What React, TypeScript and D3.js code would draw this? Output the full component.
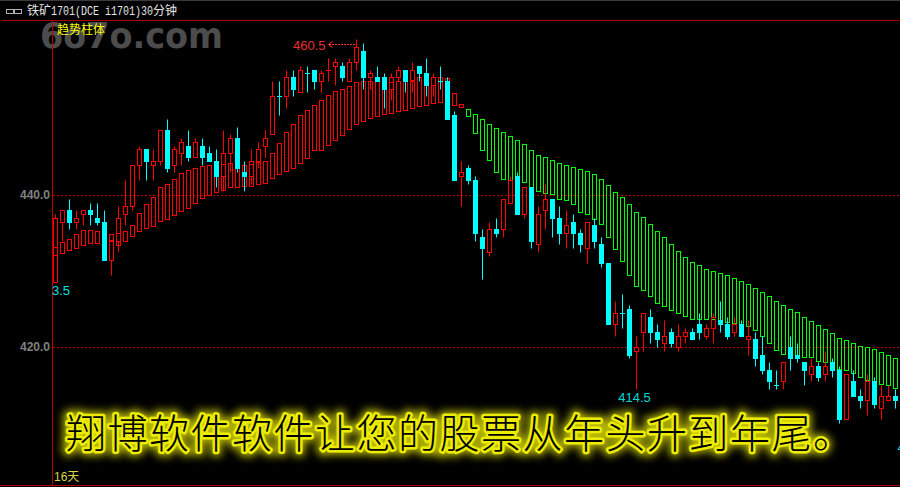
import React from "react";
import * as d3 from "d3";

const opens = [428.5,436.5,438,436.5,437.5,438,437,436.5,431.5,434,437.5,438.5,444,446,444,444.5,448.5,444,445.5,446.5,445,446.5,445.5,444.5,442.5,445.5,447.5,443,442.5,444.5,446.5,448,453,453,455.5,453.5,456,456.5,455,456.5,457,457,455,457.5,459,455.5,455.5,455.5,454,455.5,456.5,455,457,456,454.5,455,455,450.5,442.5,443.5,442,434.5,432.5,435.5,435.5,439,442.5,437.5,441,433.5,438,439.5,437,435,436.5,435,433,436,433.5,431,423,424.5,425,419.5,422,424,422,420.5,422,420,421.5,422,423,421.5,422.5,423.5,423,422,423,421,421,419,417,415,415.5,420,419,418,416.5,417.5,416.5,418,417,410.5,415.5,413.5,413,415.5,412,413,413.5];
const closes = [437,438,436.5,437,438,437.5,436.5,431.5,434,437,438.5,444,446,444.5,444.5,448.5,443.5,446,447,445,447,445,444.5,442.5,445.5,447.5,443.5,442.5,444.5,446,447.5,453,453,455.5,454,456.5,456,455,456,456.5,457.5,455.5,457.5,459.5,455.5,456,455,454,455.5,456.5,455,456.5,456,454.5,455.5,455,450,442,443,442,435,433,435.5,435,439.5,442,437.5,441,434,437.5,439.5,437,435,436,435,433.5,436.5,434,431,423,424.5,424.5,419,420,424.5,422,421,421.5,420.5,421.5,422,421,422,422.5,424,423,421.5,423,421.5,421.5,418.5,417,415.5,415,418,418.5,418.5,417,417.5,416,417.5,417,410.5,416.5,413.5,413,415.5,412.5,413.5,413.5,413];
const highs = [437.5,438,439.5,438,438,439,439,438,434,438.5,442,444,446.5,446,446,448.5,450,446.5,447.5,448.5,447.5,447.5,446.5,446,448.5,448,449,444.5,446,447,448.5,455,455,456.5,456.5,457,457,456.5,456.5,458,458,457.5,458,460.5,460,456.5,457,456,456,457,456.5,457.5,457,458,456,457,455.5,451,444.5,444,442.5,435.5,436.5,437,439.5,442.5,443,441,441,438.5,441.5,439.5,438.5,438,437.5,435.5,436.5,437,434.5,431,426,427,425.5,421.5,424.5,425,423,423.5,422.5,423,422.5,422.5,424.5,423,424.5,426,424,424,423.5,423.5,422,421.5,418,417,418,421.5,420.5,418,418.5,418,419.5,418.5,417.5,416.5,417,414.5,416.5,416,415,415,414.5];
const lows = [428.5,434,435.5,435.5,436,436,436,431.5,429.5,432.5,436,438,442,442,442,444,443,443,444,444.5,445,444,444.5,441,440.5,443,443,440.5,441.5,443.5,445,448,450.5,451.5,453,453.5,453.5,454,453.5,455,454.5,455,455,456.5,454,454,455,451.5,452.5,455,453.5,453.5,455,453,453,454,450,442,438.5,441.5,434,429,432,434.5,434.5,439,437.5,437,433,432.5,435.5,434.5,433.5,433,433,432.5,431,433,430.5,423,421.5,422.5,418.5,414.5,419.5,420.5,420,419.5,420,419.5,420.5,421,421,421,420.5,422,421,421.5,421.5,419,417.5,416.5,414.5,414.5,414.5,417,418,415,415.5,415.5,415.5,416,410,410.5,413.5,412,411,412,410.5,413,412];
const fallingDojis = [32,36,55,81,103];
const trendTop = [433.2,433.8,434.2,434.9,435.4,435.4,435.3,435.3,434.9,435,435.3,436.1,437.6,438.8,439.7,441.1,441.4,442.1,442.9,443.3,443.6,443.8,443.9,444.2,444.1,444.2,444.2,443.9,444.1,444.3,444.5,445.5,446.8,448.3,449.3,450.5,451.2,451.8,452.5,453.2,453.7,453.9,454.3,454.9,455,455,455,455.1,454.9,455,455.1,455.1,455.5,455.5,455.5,455.5,455.4,453.4,452,451.3,450.7,450,449.3,448.8,448.3,447.8,447.2,446.7,445.9,445.3,445,444.6,444.2,443.9,443.7,443.4,443.2,442.8,442.1,441.3,440.4,439.7,438.8,437.8,437.1,436.2,435.3,434.5,433.6,432.6,431.8,431.2,430.8,430.3,430,429.7,429.5,429.1,428.7,428.3,427.8,427.2,426.7,426.1,425.5,425,424.6,423.9,423.4,422.9,422.4,421.8,421.2,420.9,420.5,420.1,420,419.7,419.3,418.9,418.5];
const trendBottom = [432.1,432.4,432.8,433,433.4,433.7,433.7,433.8,434.1,433.4,433.9,434.6,435.3,435.7,435.9,436.6,436.8,437.4,437.9,438.3,438.9,439.6,440,440.4,440.7,441.1,441.1,441.2,441.2,441.4,441.6,442.2,442.8,443.2,443.6,444.2,444.9,445.9,445.9,446.6,447.2,447.9,448.7,449.3,449.7,450.1,450.4,450.7,450.8,451.1,451.2,451.4,451.7,451.8,452.1,452.2,452.5,451.8,451.6,450.4,448.2,445.9,444.6,443,442.1,442,442.2,441.7,441.1,440.5,440.3,440.1,439.5,439.3,438.8,437.8,437.5,436.8,436.2,434.5,432.9,431.3,429.5,428,427.5,426.7,425.8,425.4,424.9,424.5,424.1,423.7,423.7,423.7,423.7,423.6,423.3,423.2,422.9,422.8,422.2,421.4,420.5,419.6,419.1,418.7,418.6,418.7,418.7,418.2,418,417.1,417.1,417,416.6,416.1,415.7,415.5,415.1,415,414.6];
const firstGreenTrend = 59;
const lowLabelIndex = 83;
const gridPrices = [440, 420];
const gridLabels = ["440.0", "420.0"];
const title = ["铁矿", "1701(DCE i1701)30", "分钟"];
const indicatorName = "趋势柱体";
const slogan = "翔博软件软件让您的股票从年头升到年尾。";
const watermark = "6o7o.com";
const highLabel = "460.5";
const lowLabel = "414.5";
const leftCutLabel = "3.5";
const rightCutLabel = "4";
const spanLabel = "16天";

const RED = "#ff0000";
const CYAN = "#00ffff";
const GREEN = "#00ff00";
const FRAME = "#b00000";
const W = 900;
const H = 487;

const x = d3.scaleLinear().domain([0, 120]).range([55.5, 895.5]);
const y = d3.scaleLinear().domain([420, 440]).range([347, 195]);
const sy = (v: number) => Math.round(y(v)) + 0.5;

const sansCJK = '"Noto Sans CJK SC", sans-serif';

export default function App() {
  const highIdx = d3.scan(highs, (a, b) => b - a)!;
  return (
    <svg width={W} height={H} viewBox={`0 0 ${W} ${H}`} style={{ position: "fixed", left: 0, top: 0, background: "#000", display: "block" }}>
      <defs>
        <filter id="glow" x="-5%" y="-60%" width="110%" height="220%">
          <feGaussianBlur stdDeviation="4" />
        </filter>
      </defs>
      <rect width={W} height={H} fill="#000" />
      <rect width={W} height={1} fill="#3a3a3a" />

      {/* watermark */}
      <text x={40} y={48} fontFamily='"DejaVu Sans", sans-serif' fontWeight={700} fontSize={36} fill="#4c4c4c" textLength={183} lengthAdjust="spacingAndGlyphs">{watermark}</text>

      {/* title bar */}
      <g fill="none" stroke="#b0b0b0">
        <rect x={6.5} y={9.5} width={8} height={4} />
        <rect x={13.5} y={9.5} width={8} height={4} />
      </g>
      <g fill="#e6e6e6" fontSize={12}>
        <text x={27} y={15} fontFamily={sansCJK}>{title[0]}</text>
        <text x={51} y={15} fontFamily='"Liberation Mono", monospace' textLength={102} lengthAdjust="spacingAndGlyphs">{title[1]}</text>
        <text x={153} y={15} fontFamily={sansCJK}>{title[2]}</text>
      </g>

      {/* frame */}
      <line x1={2} x2={W} y1={20.5} y2={20.5} stroke={FRAME} />
      <line x1={52.5} x2={52.5} y1={20} y2={486} stroke={FRAME} />
      <line x1={0} x2={W} y1={485.5} y2={485.5} stroke={FRAME} />

      {/* grid */}
      {gridPrices.map((p, i) => (
        <g key={p}>
          <line x1={53} x2={W} y1={sy(p)} y2={sy(p)} stroke="#c00000" strokeDasharray="2 2" />
          <text x={50} y={y(p) + 4} textAnchor="end" fontFamily='"Liberation Sans", sans-serif' fontWeight={700} fontSize={12} fill="#808080">{gridLabels[i]}</text>
        </g>
      ))}

      {/* trend columns */}
      {trendTop.map((t, i) => (
        <rect key={i} x={x(i) - 2} y={sy(t)} width={4} height={Math.max(1, sy(trendBottom[i]) - sy(t))} fill="none" stroke={i >= firstGreenTrend ? GREEN : RED} />
      ))}

      {/* candles */}
      {opens.map((o, i) => {
        const c = closes[i];
        const falling = c < o || (c === o && fallingDojis.includes(i));
        const top = sy(Math.max(o, c));
        const bottom = sy(Math.min(o, c));
        const col = falling ? CYAN : RED;
        return (
          <g key={i}>
            <line x1={x(i)} x2={x(i)} y1={sy(highs[i])} y2={top} stroke={col} />
            <line x1={x(i)} x2={x(i)} y1={bottom} y2={sy(lows[i])} stroke={col} />
            {top === bottom ? (
              <line x1={x(i) - 2.5} x2={x(i) + 2.5} y1={top} y2={top} stroke={col} />
            ) : falling ? (
              <rect x={x(i) - 2.5} y={top - 0.5} width={5} height={bottom - top + 1} fill={CYAN} />
            ) : (
              <rect x={x(i) - 2} y={top} width={4} height={bottom - top} fill="none" stroke={RED} />
            )}
          </g>
        );
      })}

      {/* extreme labels */}
      <text x={293} y={50} fontFamily='"Liberation Sans", sans-serif' fontSize={13} fill="#e83030">{highLabel}</text>
      <line x1={329} x2={x(highIdx) - 1} y1={44.5} y2={44.5} stroke="#ff3030" strokeDasharray="2 1" />
      <path d="M332.5 41.5 L328.5 44.5 L332.5 47.5" fill="none" stroke="#ff3030" />
      <text x={x(lowLabelIndex) - 2} y={402} textAnchor="middle" fontFamily='"Liberation Sans", sans-serif' fontSize={13} fill="#00d8d8">{lowLabel}</text>
      <text x={52} y={295} fontFamily='"Liberation Sans", sans-serif' fontSize={13} fill="#00e0e0">{leftCutLabel}</text>
      <text x={897.5} y={452} fontFamily='"Liberation Sans", sans-serif' fontSize={13} fill="#00d8d8">{rightCutLabel}</text>

      {/* labels */}
      <text x={57} y={34} fontFamily={sansCJK} fontSize={12} fill="#ffff00">{indicatorName}</text>
      <text x={54} y={481} fontFamily='"Liberation Sans", "Noto Sans CJK SC", sans-serif' fontSize={12} fill="#d8d840">{spanLabel}</text>

      {/* slogan */}
      <g fontFamily={sansCJK} fontSize={40} fontWeight={300}>
        <text x={66} y={448} textLength={787} stroke="#e8e800" strokeWidth={9} fill="#e8e800" filter="url(#glow)" opacity={0.8}>{slogan}</text>
        <text x={66} y={448} textLength={787} stroke="#ecec00" strokeWidth={5} strokeLinejoin="round" fill="#ecec00">{slogan}</text>
        <text x={66} y={448} textLength={787} fill="#000">{slogan}</text>
      </g>
    </svg>
  );
}
